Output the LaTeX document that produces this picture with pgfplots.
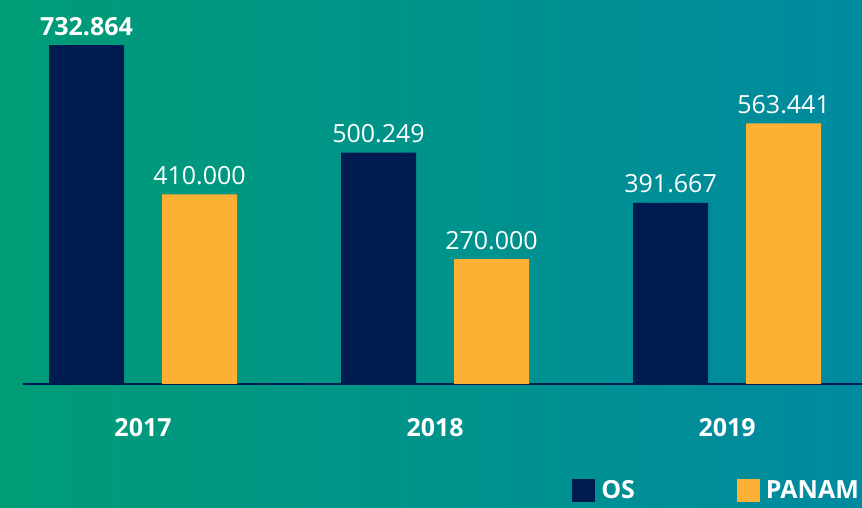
\documentclass[border=0pt]{standalone}
\usepackage{pgfplots}
\pgfplotsset{compat=1.18}
\usepackage{fontspec}
\setmainfont{Open Sans}
\definecolor{gl}{RGB}{0,156,118}
\definecolor{gr}{RGB}{0,138,160}
\definecolor{navy}{RGB}{0,27,80}
\definecolor{amber}{RGB}{252,176,52}
\begin{document}
\begin{tikzpicture}
\shade[left color=gl, right color=gr] (-23pt,-124pt) rectangle (839pt,384pt);
\begin{axis}[
  scale only axis,
  width=839pt, height=384pt,
  xmin=-0.411, xmax=2.462,
  ymin=0, ymax=830.2,
  axis y line=none,
  axis x line=bottom,
  x axis line style={-, draw=navy, line width=2pt},
  xtick={0,1,2},
  xticklabels={2017,2018,2019},
  major tick length=0pt,
  xticklabel style={font=\fontsize{25}{30}\selectfont\bfseries, text=white, yshift=-31pt},
  ytick=\empty,
  ybar,
  bar width=75pt,
  nodes near coords,
  point meta=explicit symbolic,
  every node near coord/.append style={font=\fontsize{25}{30}\selectfont, text=white, yshift=6pt},
  legend columns=2,
  legend style={draw=none, fill=none, at={(axis description cs:1,0)}, anchor=north east, yshift=-92pt, xshift=2pt, font=\fontsize{25}{30}\selectfont\bfseries, text=white, /tikz/every odd column/.append style={column sep=4pt}, /tikz/every even column/.append style={column sep=100pt}},
  legend image code/.code={\fill[#1] (0pt,-11.5pt) rectangle (23pt,11.5pt);},
]
\addplot[fill=navy, draw=none, bar shift=-56.5pt] coordinates {(0,732.864) [\bfseries 732.864] (1,500.249) [500.249] (2,391.667) [391.667]};
\addplot[fill=amber, draw=none, bar shift=56.5pt] coordinates {(0,410.000) [410.000] (1,270.000) [270.000] (2,563.441) [563.441]};
\legend{OS,PANAM}
\end{axis}
\pgfresetboundingbox
\path (-23pt,-124pt) rectangle (839pt,384pt);
\end{tikzpicture}
\end{document}
